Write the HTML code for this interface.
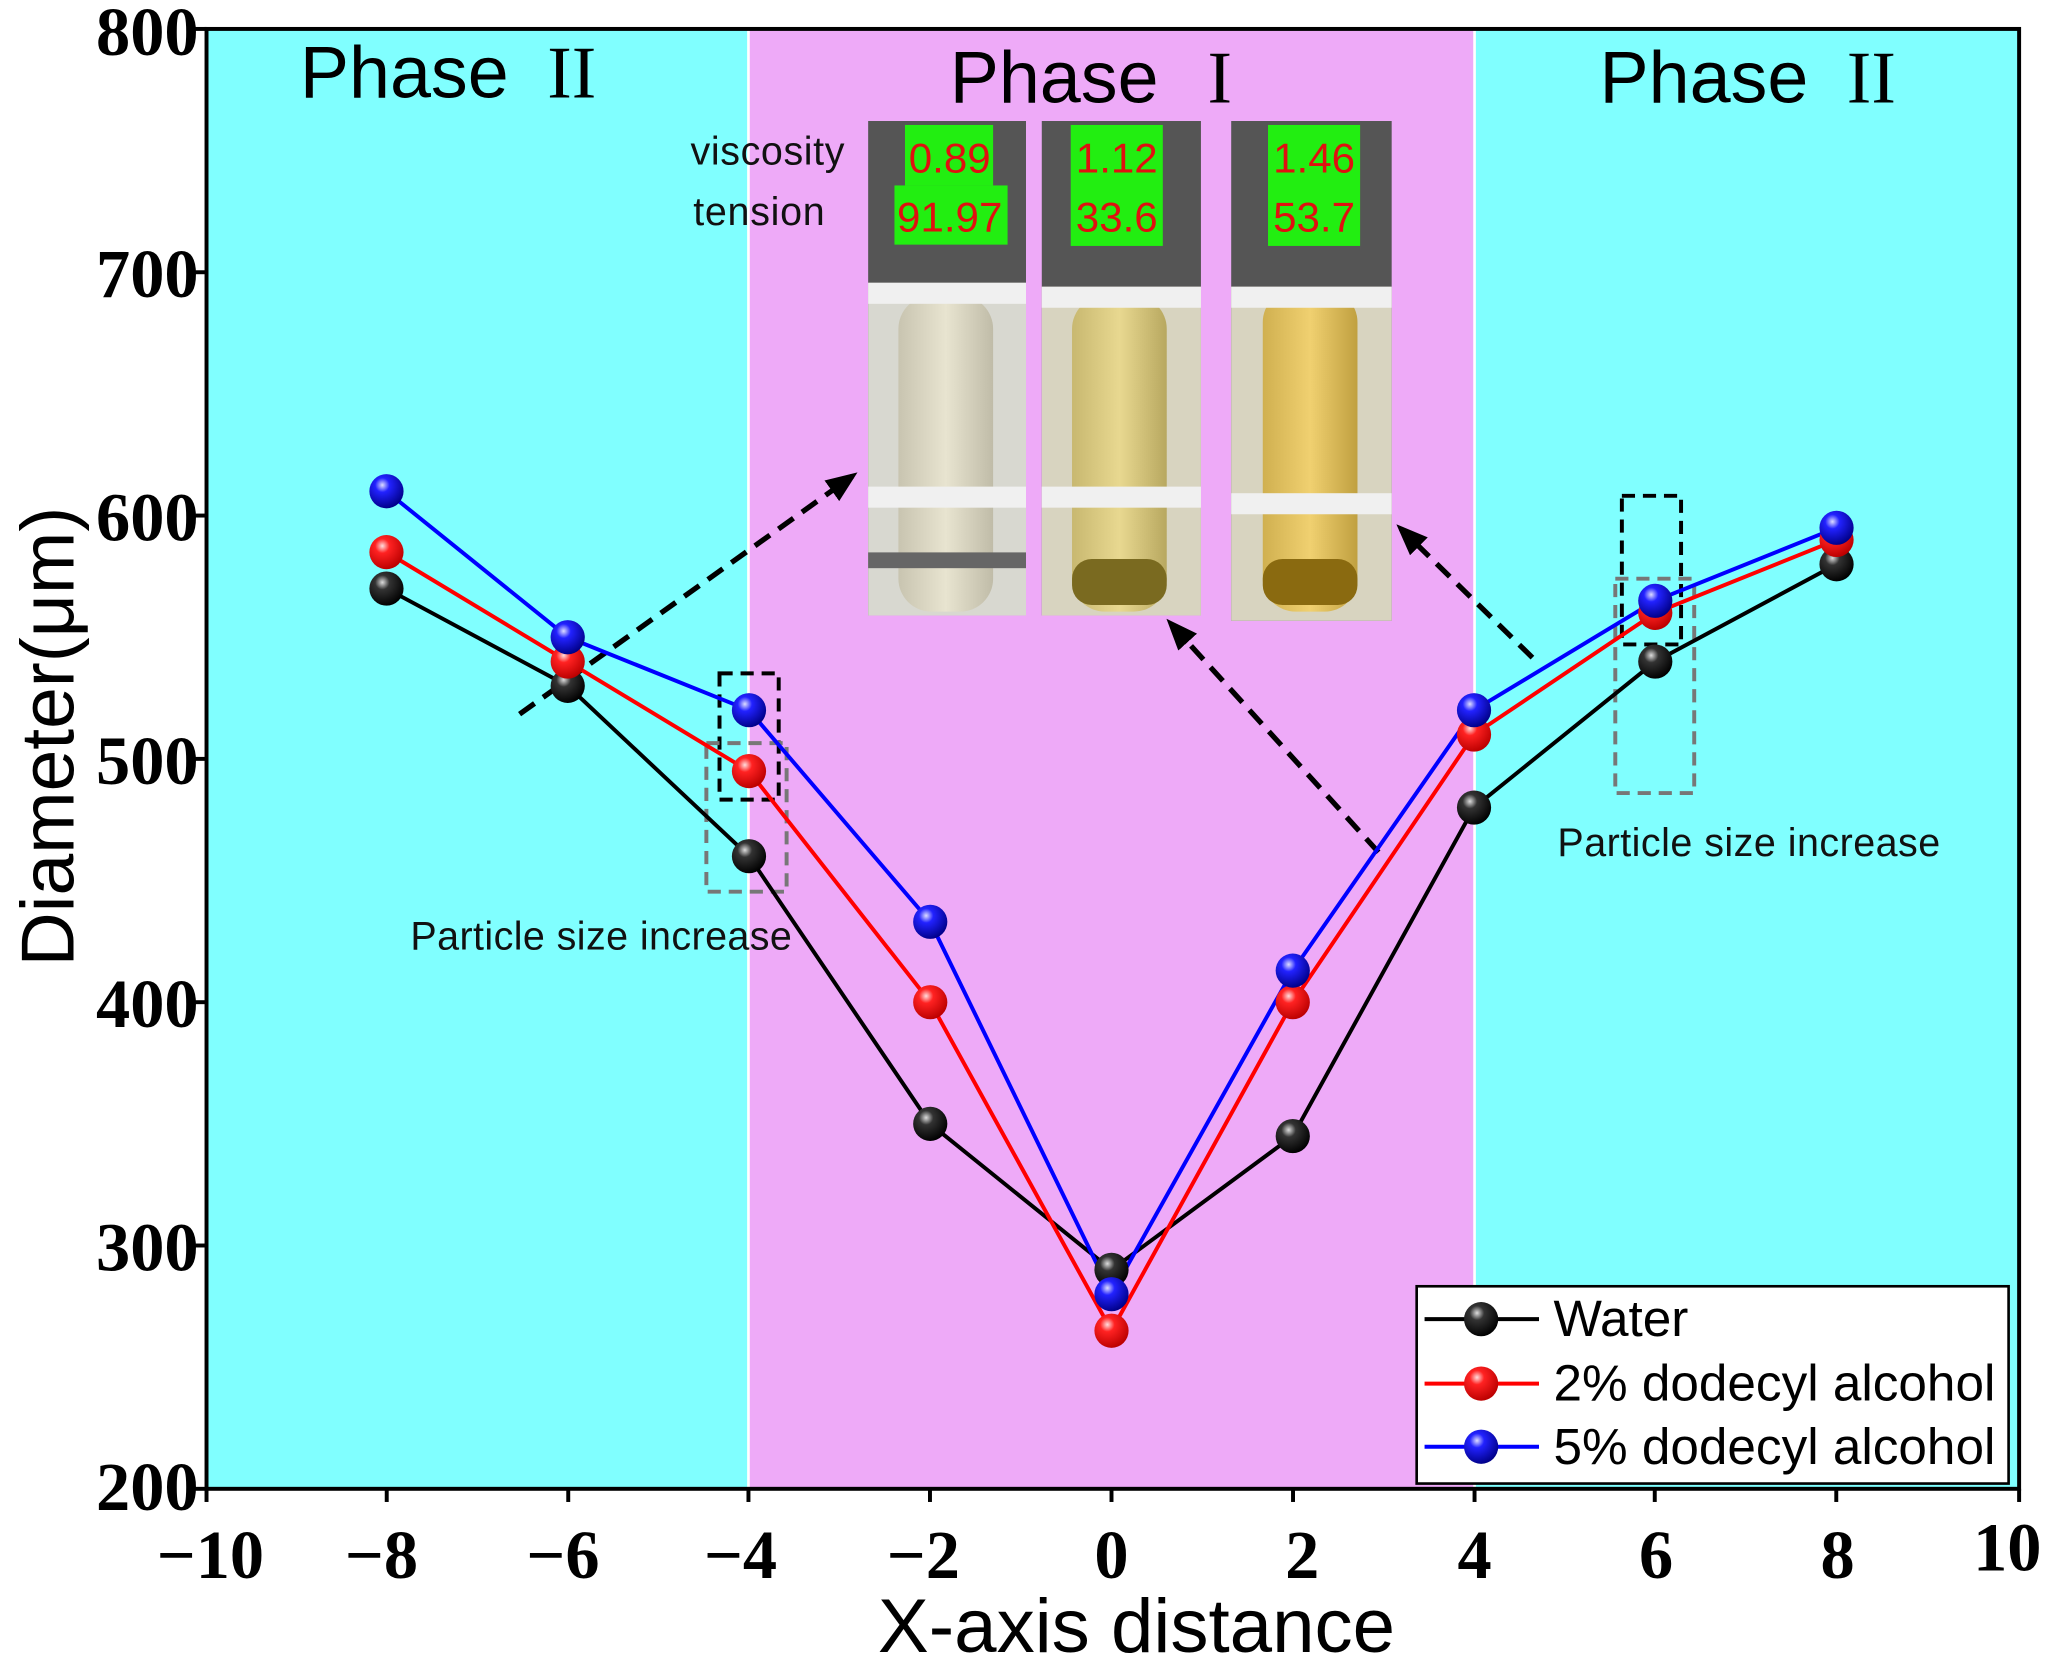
<!DOCTYPE html>
<html><head><meta charset="utf-8"><style>html,body{margin:0;padding:0;background:#fff}svg{display:block}</style></head>
<body>
<svg width="2052" height="1669" viewBox="0 0 1560 1269" preserveAspectRatio="none" xmlns="http://www.w3.org/2000/svg">
<defs>
<radialGradient id="gk" cx="0.38" cy="0.32" r="0.7"><stop offset="0" stop-color="#ddd"/><stop offset="0.3" stop-color="#333"/><stop offset="1" stop-color="#000"/></radialGradient>
<radialGradient id="gr" cx="0.38" cy="0.32" r="0.7"><stop offset="0" stop-color="#fdd"/><stop offset="0.3" stop-color="#f22"/><stop offset="1" stop-color="#b00"/></radialGradient>
<radialGradient id="gb" cx="0.38" cy="0.32" r="0.7"><stop offset="0" stop-color="#ddf"/><stop offset="0.3" stop-color="#22f"/><stop offset="1" stop-color="#008"/></radialGradient>
<linearGradient id="t1" x1="0" x2="1"><stop offset="0" stop-color="#c8c4b0"/><stop offset="0.5" stop-color="#e8e4d0"/><stop offset="1" stop-color="#c0bca8"/></linearGradient>
<linearGradient id="t2" x1="0" x2="1"><stop offset="0" stop-color="#c8b870"/><stop offset="0.5" stop-color="#e8d890"/><stop offset="1" stop-color="#b8a860"/></linearGradient>
<linearGradient id="t3" x1="0" x2="1"><stop offset="0" stop-color="#d0b050"/><stop offset="0.5" stop-color="#f0d070"/><stop offset="1" stop-color="#c0a040"/></linearGradient>
<marker id="ah" viewBox="0 0 10 10" refX="8" refY="5" markerWidth="6" markerHeight="6" orient="auto"><path d="M0,1 L10,5 L0,9 z" fill="#000"/></marker>
</defs>
<rect x="0" y="0" width="1560" height="1269" fill="#fff"/>
<rect x="157" y="22" width="412" height="1110" fill="#80ffff"/>
<rect x="569" y="22" width="552" height="1110" fill="#eeaaf8"/>
<rect x="1121" y="22" width="414" height="1110" fill="#80ffff"/>
<line x1="569" y1="22" x2="569" y2="1132" stroke="#fff" stroke-width="2"/>
<line x1="1121" y1="22" x2="1121" y2="1132" stroke="#fff" stroke-width="2"/>
<rect x="157" y="22" width="1378" height="1110" fill="none" stroke="#000" stroke-width="3"/>
<g font-family="Liberation Sans, sans-serif" font-size="56" fill="#000">
<text x="228" y="74">Phase</text><text x="416" y="74" font-family="Liberation Serif, serif">II</text>
<text x="722" y="78">Phase</text><text x="918" y="78" font-family="Liberation Serif, serif">I</text>
<text x="1216" y="78">Phase</text><text x="1404" y="78" font-family="Liberation Serif, serif">II</text>
</g>
<!-- photos -->
<g>
<rect x="660" y="92" width="120" height="376" fill="#555"/>
<rect x="660" y="215" width="120" height="253" fill="#d8d8d0"/>
<rect x="683" y="225" width="72" height="240" rx="25" fill="url(#t1)"/>
<rect x="660" y="215" width="120" height="16" fill="#f0f0f0"/>
<rect x="660" y="370" width="120" height="16" fill="#f0f0f0"/>
<rect x="660" y="420" width="120" height="12" fill="#666"/>
<rect x="792" y="92" width="121" height="376" fill="#555"/>
<rect x="792" y="218" width="121" height="250" fill="#d8d4c0"/>
<rect x="815" y="225" width="72" height="240" rx="25" fill="url(#t2)"/>
<rect x="815" y="425" width="72" height="35" rx="15" fill="#7a6a20"/>
<rect x="792" y="218" width="121" height="16" fill="#f0f0f0"/>
<rect x="792" y="370" width="121" height="16" fill="#f0f0f0"/>
<rect x="936" y="92" width="122" height="380" fill="#555"/>
<rect x="936" y="218" width="122" height="254" fill="#d8d4c0"/>
<rect x="960" y="220" width="72" height="245" rx="25" fill="url(#t3)"/>
<rect x="960" y="425" width="72" height="35" rx="15" fill="#8a6a10"/>
<rect x="936" y="218" width="122" height="16" fill="#f0f0f0"/>
<rect x="936" y="375" width="122" height="16" fill="#f0f0f0"/>
</g>
<g font-family="Liberation Sans, sans-serif" font-size="32" fill="#e01010" text-anchor="middle">
<rect x="688" y="95" width="67" height="46" fill="#22ee11"/><rect x="680" y="141" width="86" height="45" fill="#22ee11"/>
<text x="722" y="131">0.89</text><text x="722" y="176">91.97</text>
<rect x="814" y="95" width="70" height="92" fill="#22ee11"/>
<text x="849" y="131">1.12</text><text x="849" y="176">33.6</text>
<rect x="964" y="95" width="70" height="92" fill="#22ee11"/>
<text x="999" y="131">1.46</text><text x="999" y="176">53.7</text>
</g>
<g font-family="Liberation Sans, sans-serif" fill="#111">
<text x="525" y="125" font-size="30" textLength="117">viscosity</text><text x="527" y="171" font-size="30" textLength="100">tension</text>
<text x="312" y="722" font-size="30" textLength="290">Particle size increase</text>
<text x="1184" y="651" font-size="30" textLength="291">Particle size increase</text>
</g>
<!-- dashed boxes & arrows -->
<g fill="none" stroke-width="3" stroke-dasharray="10,6">
<rect x="547" y="512" width="45" height="96" stroke="#000"/>
<rect x="537" y="565" width="61" height="113" stroke="#777"/>
<rect x="1233" y="377" width="45" height="113" stroke="#000"/>
<rect x="1228" y="440" width="60" height="163" stroke="#777"/>
</g>
<g fill="none" stroke-width="4" stroke-dasharray="14,8">
<line x1="395" y1="543" x2="648" y2="362" stroke="#000" marker-end="url(#ah)"/>
<line x1="1048" y1="648" x2="890" y2="474" stroke="#000" marker-end="url(#ah)"/>
<line x1="1165" y1="500" x2="1065" y2="402" stroke="#000" marker-end="url(#ah)"/>
</g>
<!-- data -->
<g fill="none" stroke-width="3">
<polyline stroke="#000" points="293.8,447.5 431.6,521.5 569.4,651 707.2,854.5 845,965.5 982.8,863.8 1120.6,614 1258.4,503 1396.2,429"/>
<polyline stroke="#f00" points="293.8,419.8 431.6,503 569.4,586.3 707.2,762 845,1011.8 982.8,762 1120.6,558.5 1258.4,466 1396.2,410.5"/>
<polyline stroke="#00f" points="293.8,373.5 431.6,484.5 569.4,540 707.2,700.9 845,984 982.8,738 1120.6,540 1258.4,456.8 1396.2,401.3"/>
</g>
<g fill="url(#gk)">
<circle cx="293.8" cy="447.5" r="13"/><circle cx="431.6" cy="521.5" r="13"/><circle cx="569.4" cy="651" r="13"/><circle cx="707.2" cy="854.5" r="13"/><circle cx="845" cy="965.5" r="13"/><circle cx="982.8" cy="863.8" r="13"/><circle cx="1120.6" cy="614" r="13"/><circle cx="1258.4" cy="503" r="13"/><circle cx="1396.2" cy="429" r="13"/>
</g>
<g fill="url(#gr)">
<circle cx="293.8" cy="419.8" r="13"/><circle cx="431.6" cy="503" r="13"/><circle cx="569.4" cy="586.3" r="13"/><circle cx="707.2" cy="762" r="13"/><circle cx="845" cy="1011.8" r="13"/><circle cx="982.8" cy="762" r="13"/><circle cx="1120.6" cy="558.5" r="13"/><circle cx="1258.4" cy="466" r="13"/><circle cx="1396.2" cy="410.5" r="13"/>
</g>
<g fill="url(#gb)">
<circle cx="293.8" cy="373.5" r="13"/><circle cx="431.6" cy="484.5" r="13"/><circle cx="569.4" cy="540" r="13"/><circle cx="707.2" cy="700.9" r="13"/><circle cx="845" cy="984" r="13"/><circle cx="982.8" cy="738" r="13"/><circle cx="1120.6" cy="540" r="13"/><circle cx="1258.4" cy="456.8" r="13"/><circle cx="1396.2" cy="401.3" r="13"/>
</g>
<!-- legend -->
<rect x="1077" y="978" width="450" height="150" fill="#fff" stroke="#000" stroke-width="2"/>
<g stroke-width="3">
<line x1="1083" y1="1003" x2="1170" y2="1003" stroke="#000"/><circle cx="1126" cy="1003" r="13" fill="url(#gk)"/>
<line x1="1083" y1="1052" x2="1170" y2="1052" stroke="#f00"/><circle cx="1126" cy="1052" r="13" fill="url(#gr)"/>
<line x1="1083" y1="1100" x2="1170" y2="1100" stroke="#00f"/><circle cx="1126" cy="1100" r="13" fill="url(#gb)"/>
</g>
<g font-family="Liberation Sans, sans-serif" font-size="39" fill="#000">
<text x="1181" y="1016">Water</text><text x="1181" y="1065">2% dodecyl alcohol</text><text x="1181" y="1113">5% dodecyl alcohol</text>
</g>
<!-- ticks -->
<g stroke="#000" stroke-width="3">
<line x1="147" y1="22" x2="157" y2="22"/><line x1="147" y1="207" x2="157" y2="207"/><line x1="147" y1="392" x2="157" y2="392"/><line x1="147" y1="577" x2="157" y2="577"/><line x1="147" y1="762" x2="157" y2="762"/><line x1="147" y1="947" x2="157" y2="947"/><line x1="147" y1="1132" x2="157" y2="1132"/>
<line x1="157" y1="1132" x2="157" y2="1142"/><line x1="294" y1="1132" x2="294" y2="1142"/><line x1="432" y1="1132" x2="432" y2="1142"/><line x1="569" y1="1132" x2="569" y2="1142"/><line x1="707" y1="1132" x2="707" y2="1142"/><line x1="845" y1="1132" x2="845" y2="1142"/><line x1="983" y1="1132" x2="983" y2="1142"/><line x1="1121" y1="1132" x2="1121" y2="1142"/><line x1="1258" y1="1132" x2="1258" y2="1142"/><line x1="1396" y1="1132" x2="1396" y2="1142"/><line x1="1535" y1="1132" x2="1535" y2="1142"/>
</g>
<g font-family="Liberation Serif, serif" font-weight="bold" font-size="52" fill="#000" text-anchor="end">
<text x="151" y="42">800</text><text x="151" y="226">700</text><text x="151" y="411">600</text><text x="151" y="596">500</text><text x="151" y="781">400</text><text x="151" y="966">300</text><text x="151" y="1148">200</text>
</g>
<g font-family="Liberation Serif, serif" font-weight="bold" font-size="52" fill="#000" text-anchor="middle">
<text x="160" y="1200">−10</text><text x="290" y="1200">−8</text><text x="428" y="1200">−6</text><text x="563" y="1200">−4</text><text x="702" y="1200">−2</text><text x="845" y="1200">0</text><text x="990" y="1200">2</text><text x="1121" y="1200">4</text><text x="1259" y="1200">6</text><text x="1397" y="1200">8</text><text x="1526" y="1194">10</text>
</g>
<text x="864" y="1256" font-family="Liberation Sans, sans-serif" font-size="58" text-anchor="middle">X-axis distance</text>
<text transform="translate(56,560) rotate(-90)" font-family="Liberation Sans, sans-serif" font-size="57" text-anchor="middle">Diameter(μm)</text>
</svg>
</body></html>
